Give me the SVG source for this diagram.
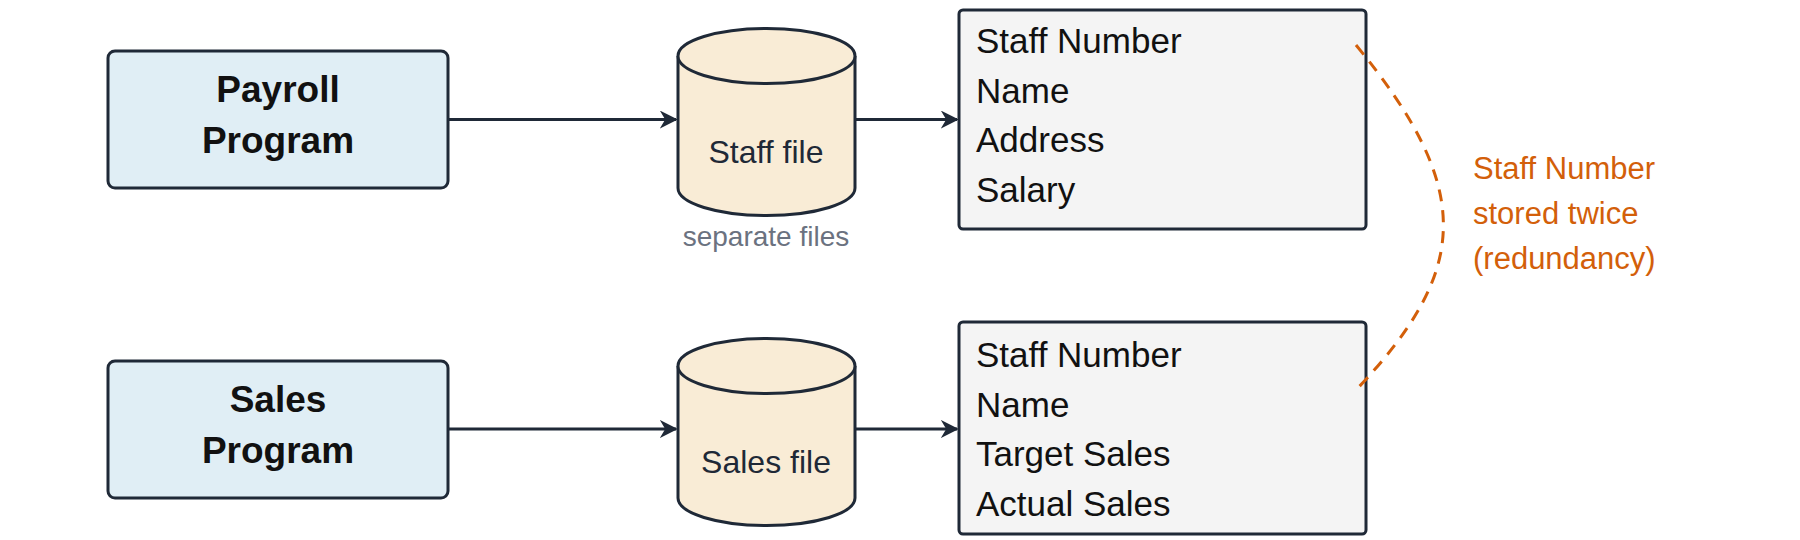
<svg xmlns="http://www.w3.org/2000/svg" width="1800" height="540" viewBox="0 0 1800 540">
<style>
text{font-family:"Liberation Sans",Arial,sans-serif;}
.prog{fill:#e0eef5;stroke:#1f2937;stroke-width:3}
.pt{font-size:37px;font-weight:bold;fill:#111;text-anchor:middle}
.cyl{fill:#f9ecd6;stroke:#1f2937;stroke-width:3}
.ct{font-size:32px;fill:#1f2937;text-anchor:middle}
.rec{fill:#f4f4f4;stroke:#1f2937;stroke-width:3}
.rt{font-size:35px;fill:#111}
.conn{stroke:#1f2937;stroke-width:3;fill:none}
.note{font-size:31px;fill:#d35f0a}
</style>
<defs>
<marker id="arr" viewBox="0 0 10 10" refX="9" refY="5" markerWidth="18" markerHeight="18" markerUnits="userSpaceOnUse" orient="auto">
<path d="M0,0 L10,5 L0,10 L3,5 Z" fill="#1f2937"/>
</marker>
</defs>
<g id="payroll"><rect class="prog" x="108" y="51" width="340" height="137" rx="7"/><text class="pt" x="278" y="102">Payroll</text><text class="pt" x="278" y="153">Program</text></g>
<g id="sales"><rect class="prog" x="108" y="361" width="340" height="137" rx="7"/><text class="pt" x="278" y="412">Sales</text><text class="pt" x="278" y="463">Program</text></g>
<g id="stafffile"><path class="cyl" d="M678,56 A88.5,27.5 0 0 1 855,56 V188 A88.5,27.5 0 0 1 678,188 Z"/><path class="cyl" d="M678,56 A88.5,27.5 0 0 0 855,56"/><text class="ct" x="766" y="163">Staff file</text><text x="766" y="246" style="font-size:28px;fill:#6b7280;text-anchor:middle">separate files</text></g>
<g id="salesfile"><path class="cyl" d="M678,366 A88.5,27.5 0 0 1 855,366 V498 A88.5,27.5 0 0 1 678,498 Z"/><path class="cyl" d="M678,366 A88.5,27.5 0 0 0 855,366"/><text class="ct" x="766" y="473">Sales file</text></g>
<g id="staffrec"><rect class="rec" x="959" y="10" width="407" height="219" rx="4"/><text class="rt" x="976" y="53">Staff Number</text><text class="rt" x="976" y="102.5">Name</text><text class="rt" x="976" y="152">Address</text><text class="rt" x="976" y="201.5">Salary</text></g>
<g id="salesrec"><rect class="rec" x="959" y="322" width="407" height="212" rx="4"/><text class="rt" x="976" y="367">Staff Number</text><text class="rt" x="976" y="416.5">Name</text><text class="rt" x="976" y="466">Target Sales</text><text class="rt" x="976" y="515.5">Actual Sales</text></g>
<g id="connectors">
<path class="conn" d="M448,119.5 H676" marker-end="url(#arr)"/>
<path class="conn" d="M855,119.5 H957" marker-end="url(#arr)"/>
<path class="conn" d="M448,429 H676" marker-end="url(#arr)"/>
<path class="conn" d="M855,429 H957" marker-end="url(#arr)"/>
<path d="M1356,45 C1475,190 1470,270 1356,390" fill="none" stroke="#d35f0a" stroke-width="3" stroke-dasharray="12,9"/>
</g>
<g id="note"><text class="note" x="1473" y="179">Staff Number</text><text class="note" x="1473" y="224">stored twice</text><text class="note" x="1473" y="269">(redundancy)</text></g>
</svg>
